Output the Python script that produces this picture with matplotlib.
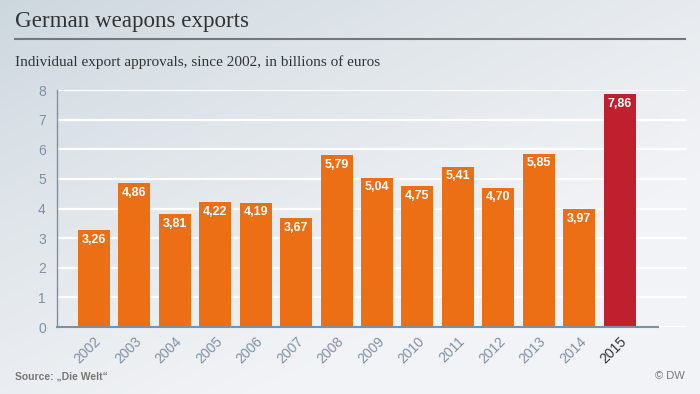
import numpy as np
import matplotlib.pyplot as plt
from matplotlib.lines import Line2D

# Datos
years = ["2002", "2003", "2004", "2005", "2006", "2007", "2008",
         "2009", "2010", "2011", "2012", "2013", "2014", "2015"]
values = [3.26, 4.86, 3.81, 4.22, 4.19, 3.67, 5.79,
          5.04, 4.75, 5.41, 4.70, 5.85, 3.97, 7.86]
highlight = "2015"

orange = "#ec6f16"
red = "#c0202e"
tick_col = "#7d91a6"

fig = plt.figure(figsize=(7, 3.94), dpi=100)

# fondo degradado (oscuro arriba a la izquierda)
bg = fig.add_axes([0, 0, 1, 1])
gx, gy = np.meshgrid(np.linspace(0, 1, 200), np.linspace(0, 1, 120))
t = np.clip(0.65 * gx + 0.75 * gy, 0, 1) ** 0.8
c0 = np.array([0.80, 0.84, 0.87])
c1 = np.array([0.95, 0.955, 0.965])
img = c0 + (c1 - c0) * t[..., None]
bg.imshow(img, aspect="auto", extent=[0, 1, 0, 1], origin="upper")
bg.axis("off")

ax = fig.add_axes([0.0814, 0.170, 0.8996, 0.6015])
ax.patch.set_alpha(0)

x = np.arange(len(years))
colors = [red if y == highlight else orange for y in years]
bars = ax.bar(x, values, width=0.79, color=colors, zorder=3)

for b, v in zip(bars, values):
    ax.text(b.get_x() + b.get_width() / 2, v - 0.12, f"{v:.2f}".replace(".", ","),
            ha="center", va="top", color="white", fontsize=9, fontweight="bold",
            family="Liberation Sans", zorder=4)

ax.set_xlim(-0.915, 14.66)
ax.set_ylim(0, 8)
ax.set_yticks(range(0, 9))
ax.yaxis.grid(True, color="white", linewidth=1.6, zorder=0)
ax.set_axisbelow(True)

for s in ["top", "right", "bottom"]:
    ax.spines[s].set_visible(False)
ax.spines["left"].set_color(tick_col)
ax.spines["left"].set_linewidth(1.0)
ax.axhline(0, xmin=0, xmax=0.955, color=tick_col, linewidth=1.5, zorder=5, clip_on=False)

ax.tick_params(axis="both", length=0, colors=tick_col, labelsize=10)
ax.tick_params(axis="y", pad=8)
ax.set_xticks(x)
ax.set_xticklabels(years, rotation=45, ha="right", rotation_mode="anchor",
                   family="Liberation Sans")
for lab in ax.get_yticklabels():
    lab.set_family("Liberation Sans")
for lab in ax.get_xticklabels():
    if lab.get_text() == highlight:
        lab.set_color("#333333")
ax.tick_params(axis="x", pad=5)

# textos
fig.text(0.021, 0.945, "German weapons exports", fontsize=16.6, family="Liberation Serif",
         color="#333333", va="center")
fig.add_artist(Line2D([0.021, 0.979], [0.900, 0.900], color="#777777", linewidth=1.5))
fig.text(0.021, 0.843, "Individual export approvals, since 2002, in billions of euros",
         fontsize=11, family="Liberation Serif", color="#333333", va="center")
fig.text(0.021, 0.045, "Source: \u201eDie Welt\u201c", fontsize=7.5, fontweight="bold",
         family="Liberation Sans", color="#777777", va="center")
fig.text(0.978, 0.045, "\u00a9 DW", fontsize=8, family="Liberation Sans",
         color="#777777", va="center", ha="right")

fig.savefig("out.png", dpi=100)
